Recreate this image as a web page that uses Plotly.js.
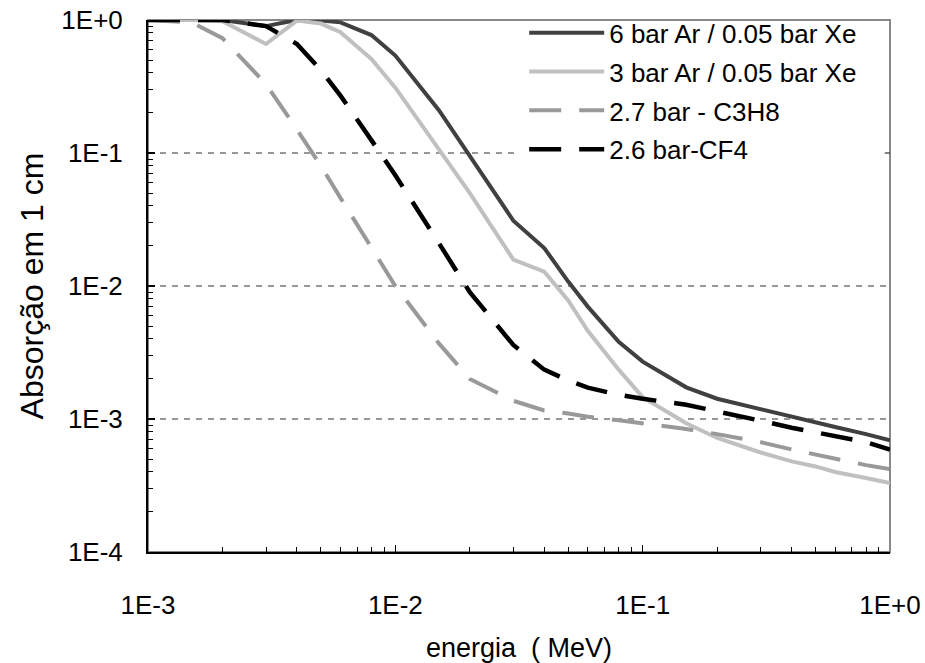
<!DOCTYPE html>
<html>
<head>
<meta charset="utf-8">
<script src="https://cdn.plot.ly/plotly-3.0.1.min.js"></script>
<style>html,body{margin:0;padding:0;background:#fff;}#chart{width:925px;height:663px;}</style>
</head>
<body>
<div id="chart"></div>
<script>
// Energy (MeV)
const energy = [0.001, 0.0015, 0.002, 0.003, 0.004, 0.005, 0.006, 0.008, 0.01, 0.015, 0.02, 0.03, 0.04, 0.05, 0.06, 0.08, 0.1, 0.15, 0.2, 0.3, 0.4, 0.5, 0.6, 0.8, 1.0];

const ar6xe = [1.0, 1.0, 1.0, 0.90, 1.0, 0.99, 0.96, 0.77, 0.54, 0.21, 0.095, 0.031, 0.0193, 0.0108, 0.0070, 0.0038, 0.0027, 0.00173, 0.00142, 0.00118, 0.00105, 0.00094, 0.00087, 0.00077, 0.00069];
const ar3xe = [1.0, 1.0, 0.98, 0.66, 0.99, 0.94, 0.81, 0.51, 0.31, 0.105, 0.05, 0.0158, 0.0128, 0.0078, 0.0046, 0.00235, 0.00146, 0.00093, 0.00072, 0.00056, 0.00048, 0.00044, 0.00040, 0.00036, 0.00033];
const c3h8 = [1.0, 0.96, 0.73, 0.33, 0.15, 0.08, 0.046, 0.0195, 0.0100, 0.0037, 0.0020, 0.00137, 0.00116, 0.00110, 0.00104, 0.00098, 0.00093, 0.00084, 0.00077, 0.00067, 0.00059, 0.00054, 0.00050, 0.00045, 0.00042];
const cf4 = [1.0, 1.0, 1.0, 0.90, 0.66, 0.42, 0.27, 0.125, 0.068, 0.021, 0.0090, 0.0036, 0.00235, 0.00195, 0.00172, 0.00152, 0.00142, 0.00128, 0.00115, 0.00097, 0.00086, 0.00079, 0.00074, 0.00067, 0.00059];

const seriesNames = ["6 bar Ar / 0.05 bar Xe", "3 bar Ar / 0.05 bar Xe", "2.7 bar - C3H8", "2.6 bar-CF4"];

const xTickVals = [0.001, 0.01, 0.1, 1];
const xTickText = ["1E-3", "1E-2", "1E-1", "1E+0"];
const yTickVals = [0.0001, 0.001, 0.01, 0.1, 1];
const yTickText = ["1E-4", "1E-3", "1E-2", "1E-1", "1E+0"];
const gridVals = [0.001, 0.01, 0.1];

const Y_RANGE = [-4, 0];
const X_RANGE = [-3, 0];

function minorVals(lo, hi) {
  const v = [];
  for (let e = lo; e < hi; e++) for (let k = 2; k <= 9; k++) v.push(k * Math.pow(10, e));
  return v;
}

const FONT = "Liberation Sans, Arial, sans-serif";

const traces = [
  {x: energy, y: ar6xe, name: seriesNames[0], legendgroup: "a", mode: "lines",
   line: {color: "#404040", width: 4}},
  {x: energy, y: ar3xe, name: seriesNames[1], legendgroup: "b", mode: "lines",
   line: {color: "#c0c0c0", width: 4}},
  {x: energy, y: c3h8, name: seriesNames[2], legendgroup: "c", mode: "lines",
   line: {color: "#999999", width: 4, dash: "32px,18px"}},
  {x: energy, y: cf4, name: seriesNames[3], legendgroup: "d", mode: "lines",
   line: {color: "#000000", width: 4.5, dash: "32px,18px"}}
];

// legend area (in x-domain fraction) where the gridline is hidden, like the reference
const LEG_X0 = 0.499, LEG_X1 = 0.993, LEG_Y0 = 0.72;

const shapes = [
  {type: "rect", xref: "x domain", yref: "y domain", x0: 0, x1: 1, y0: 0, y1: 1,
   line: {color: "#888", width: 2}, fillcolor: "rgba(0,0,0,0)", layer: "below"}
];
gridVals.forEach(v => {
  const f = (Math.log10(v) - Y_RANGE[0]) / (Y_RANGE[1] - Y_RANGE[0]);
  const seg = (a, b) => shapes.push({type: "line", xref: "x domain", yref: "y domain",
    x0: a, x1: b, y0: f, y1: f, layer: "below",
    line: {color: "#333333", width: 1.2, dash: "6px,6px"}});
  if (f > LEG_Y0) { seg(0, LEG_X0); seg(LEG_X1, 1); } else { seg(0, 1); }
});

const layout = {
  width: 925, height: 663,
  margin: {l: 148, r: 35, t: 20, b: 111, autoexpand: false},
  paper_bgcolor: "#fff", plot_bgcolor: "#fff",
  font: {family: FONT, color: "#000", size: 26},
  showlegend: true,
  legend: {x: 0.507, y: 1.02, xanchor: "left", yanchor: "top",
    bgcolor: "rgba(0,0,0,0)", borderwidth: 0, font: {family: FONT, size: 26, color: "#000"},
    tracegroupgap: 2, itemwidth: 75},
  xaxis: {
    type: "log", range: X_RANGE,
    tickmode: "array", tickvals: xTickVals, ticktext: xTickText,
    ticks: "inside", ticklen: 7, tickwidth: 1.5, tickcolor: "#000",
    showline: true, linecolor: "#000", linewidth: 2, mirror: false,
    showgrid: false, zeroline: false,
    ticklabelstandoff: 29,
    tickfont: {family: FONT, size: 26, color: "#000"},
    minor: {tickmode: "array", tickvals: minorVals(-3, 0), ticks: "inside", ticklen: 5, tickwidth: 1, tickcolor: "#000", showgrid: false},
    title: {text: "energia  ( MeV)", font: {family: FONT, size: 27, color: "#000"}, standoff: 22}
  },
  yaxis: {
    type: "log", range: Y_RANGE,
    tickmode: "array", tickvals: yTickVals, ticktext: yTickText,
    ticks: "inside", ticklen: 7, tickwidth: 1.5, tickcolor: "#000",
    showline: true, linecolor: "#000", linewidth: 2, mirror: false,
    showgrid: false, zeroline: false,
    ticklabelstandoff: 18,
    tickfont: {family: FONT, size: 26, color: "#000"},
    minor: {tickmode: "array", tickvals: minorVals(-4, 0), ticks: "inside", ticklen: 5, tickwidth: 1, tickcolor: "#000", showgrid: false},
    title: {text: "Absorção em 1 cm", font: {family: FONT, size: 32, color: "#000"}, standoff: 8}
  },
  shapes: shapes
};

Plotly.newPlot("chart", traces, layout, {displayModeBar: false, staticPlot: true});
</script>
</body>
</html>
